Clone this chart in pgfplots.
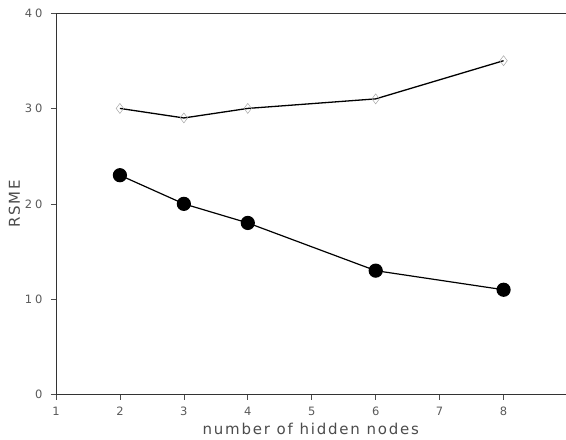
\documentclass[border=0pt]{standalone}
\usepackage{pgfplots}
\pgfplotsset{compat=1.18}
\usepackage{fontspec}
\setmainfont{DejaVu Sans}
\begin{document}
\begin{tikzpicture}
\begin{axis}[
  scale only axis,
  width=510pt, height=382pt,
  xmin=1, xmax=8.97,
  ymin=0, ymax=40,
  axis lines*=left,
  axis line style={black!80, line width=0.8pt},
  xtick={1,2,3,4,5,6,7,8},
  ytick={0,10,20,30,40},
  tick align=outside,
  tick style={black!70, line width=0.6pt},
  major tick length=5pt,
  every tick label/.append style={font=\fontsize{11.5}{13}\selectfont\addfontfeatures{LetterSpace=25}, text=black!65},
  xticklabel style={yshift=-4pt},
  yticklabel style={xshift=-5pt},
  /pgf/number format/assume math mode=true,
  xlabel={number of hidden nodes},
  ylabel={RSME},
  every axis label/.append style={font=\fontsize{15}{17}\selectfont\addfontfeatures{LetterSpace=12}, text=black!70},
  xlabel style={yshift=0pt},
  ylabel style={yshift=-2pt},
  clip=false,
]
\draw[black!80, line width=0.8pt] (rel axis cs:0,1) -- (rel axis cs:1,1);
\path (rel axis cs:0,1) ++(-56pt,13pt) coordinate (tl);
\path (rel axis cs:1,0) ++(0,-45pt) coordinate (br);
\path (tl) -- (br);
\addplot[black, line width=1.3pt, mark=diamond, mark size=5pt,
  mark options={draw=black!35, line width=0.5pt, fill=none}]
  coordinates {(2,30) (3,29) (4,30) (6,31) (8,35)};
\addplot[black, line width=1.2pt, mark=*, mark size=6.5pt,
  mark options={fill=black}]
  coordinates {(2,23) (3,20) (4,18) (6,13) (8,11)};
\end{axis}
\end{tikzpicture}
\end{document}
